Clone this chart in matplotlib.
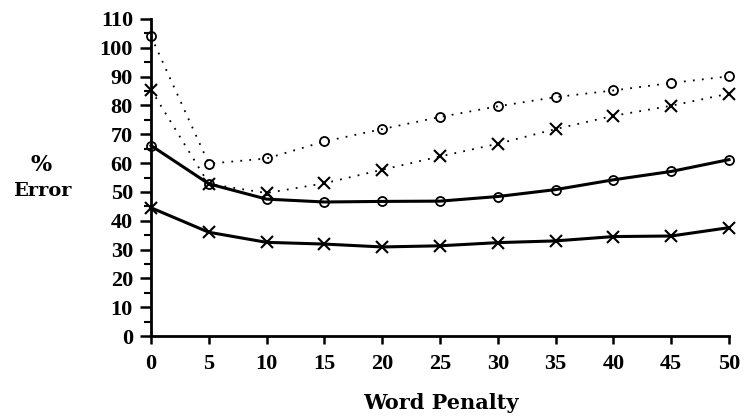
import matplotlib
matplotlib.use("Agg")
import matplotlib.pyplot as plt
from matplotlib.ticker import MultipleLocator

penalty = [0, 5, 10, 15, 20, 25, 30, 35, 40, 45, 50]
solid_circle = [66.1, 52.8, 47.5, 46.5, 46.7, 46.8, 48.4, 50.8, 54.2, 57.1, 61.2]
solid_cross = [44.5, 36.0, 32.5, 31.9, 30.9, 31.3, 32.4, 33.0, 34.5, 34.7, 37.6]
dotted_circle = [104.0, 59.8, 61.6, 67.5, 71.8, 76.0, 79.7, 82.9, 85.2, 87.8, 90.1]
dotted_cross = [85.5, 52.8, 49.6, 53.0, 57.7, 62.3, 66.7, 71.8, 76.4, 79.9, 84.1]
xticks = [0, 5, 10, 15, 20, 25, 30, 35, 40, 45, 50]
yticks = list(range(0, 111, 10))

plt.rcParams['font.family'] = ['Liberation Serif', 'DejaVu Serif']
plt.rcParams['font.weight'] = 'bold'

fig = plt.figure(figsize=(7.44, 4.16), dpi=100)
ax = fig.add_axes([151/744, 1 - 336/416, (729-151)/744, (336-19)/416])

dot = (0, (1, 4))
ax.plot(penalty, dotted_circle, color='black', lw=1.3, ls=dot, marker='o',
        ms=6.5, mfc='none', mec='black', mew=1.3, clip_on=False)
ax.plot(penalty, dotted_cross, color='black', lw=1.3, ls=dot, marker='x',
        ms=8, mec='black', mew=1.5, clip_on=False)
ax.plot(penalty, solid_circle, color='black', lw=2.2, ls='-', marker='o',
        ms=6.5, mfc='none', mec='black', mew=1.3, clip_on=False)
ax.plot(penalty, solid_cross, color='black', lw=2.2, ls='-', marker='x',
        ms=8, mec='black', mew=1.5, clip_on=False)

ax.set_xlim(0, 50)
ax.set_ylim(0, 110)
ax.set_xticks(xticks)
ax.set_yticks(yticks)
ax.yaxis.set_minor_locator(MultipleLocator(5))
for s in ['top', 'right']:
    ax.spines[s].set_visible(False)
for s in ['left', 'bottom']:
    ax.spines[s].set_linewidth(2)
ax.tick_params(axis='y', which='major', direction='out', length=8, width=1.8,
               labelsize=16, pad=5)
ax.tick_params(axis='x', which='major', direction='out', length=6, width=1.8,
               labelsize=16, pad=7)
ax.tick_params(axis='y', which='minor', direction='out', length=5, width=1.5)
for lbl in ax.get_xticklabels() + ax.get_yticklabels():
    lbl.set_fontweight('bold')

fig.text(441/744, 1 - 403/416, 'Word Penalty', ha='center', va='center',
         fontsize=15, fontweight='bold', family=['DejaVu Serif'])
fig.text(41/744, 1 - 165/416, '%', ha='center', va='center',
         fontsize=16, fontweight='bold', family=['DejaVu Serif'])
fig.text(42/744, 1 - 191/416, 'Error', ha='center', va='center',
         fontsize=14, fontweight='bold', family=['DejaVu Serif'])

fig.savefig('out.png', dpi=100)
